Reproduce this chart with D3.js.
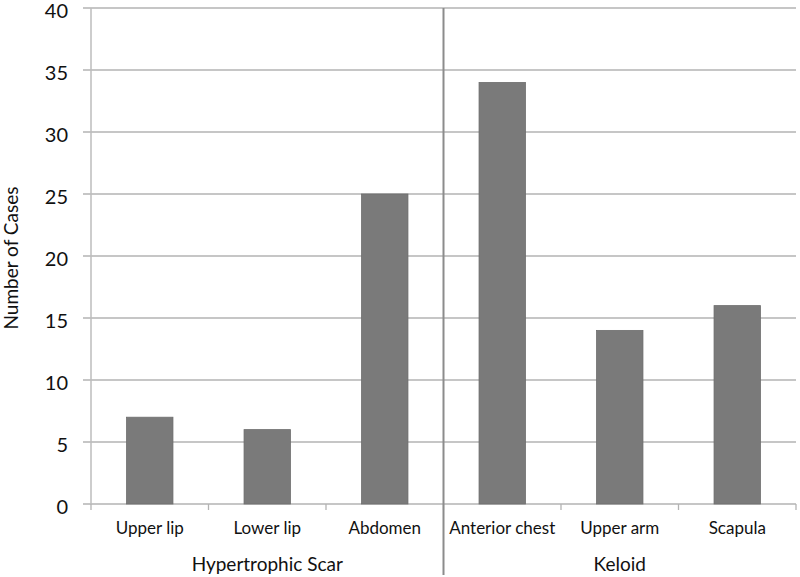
<!DOCTYPE html>
<html>
<head>
<meta charset="utf-8">
<script src="https://cdn.jsdelivr.net/npm/d3@7"></script>
<style>
  html, body { margin: 0; padding: 0; background: #fff; }
  svg { display: block; font-family: Lato, 'Open Sans', sans-serif; }
</style>
</head>
<body>
<svg id="chart" width="800" height="577"></svg>
<script>
// ── Data ──────────────────────────────────────────────────────────────────────
const categories = ['Upper lip', 'Lower lip', 'Abdomen', 'Anterior chest', 'Upper arm', 'Scapula'];
const cases      = [7, 6, 25, 34, 14, 16];
const groups     = ['Hypertrophic Scar', 'Keloid'];
const groupOf    = [0, 0, 0, 1, 1, 1];
const yTicks     = [0, 5, 10, 15, 20, 25, 30, 35, 40];

// ── Layout ────────────────────────────────────────────────────────────────────
const plot = { left: 91, right: 796, top: 8, bottom: 504 };

const svg = d3.select('#chart');

const x = d3.scaleBand()
  .domain(categories)
  .range([plot.left, plot.right])
  .paddingInner(0.605)
  .paddingOuter(0.3025);

const y = d3.scaleLinear()
  .domain([0, 40])
  .range([plot.bottom, plot.top]);

// Grid
svg.append('g')
  .selectAll('line')
  .data(yTicks)
  .join('line')
  .attr('x1', plot.left - 8).attr('x2', plot.right)
  .attr('y1', d => y(d)).attr('y2', d => y(d))
  .attr('stroke', '#b3b3b3')
  .attr('stroke-width', 1.3);

// Y axis line
svg.append('line')
  .attr('x1', plot.left).attr('x2', plot.left)
  .attr('y1', plot.top).attr('y2', plot.bottom)
  .attr('stroke', '#bdbdbd')
  .attr('stroke-width', 1.5);

// Y tick labels
svg.append('g')
  .selectAll('text')
  .data(yTicks)
  .join('text')
  .attr('x', 68)
  .attr('y', d => y(d) + 3)
  .attr('dy', '0.35em')
  .attr('text-anchor', 'end')
  .attr('font-size', 20)
  .attr('fill', '#111')
  .text(d => d);

// Category boundary ticks
const step = x.step();
const bounds = d3.range(categories.length + 1).map(i => plot.left + i * step);
svg.append('g')
  .selectAll('line')
  .data(bounds)
  .join('line')
  .attr('x1', d => d).attr('x2', d => d)
  .attr('y1', plot.bottom).attr('y2', plot.bottom + 6)
  .attr('stroke', '#b3b3b3')
  .attr('stroke-width', 1.3);

// Bars
svg.append('g')
  .selectAll('rect')
  .data(categories)
  .join('rect')
  .attr('x', d => x(d))
  .attr('y', (d, i) => y(cases[i]))
  .attr('width', x.bandwidth())
  .attr('height', (d, i) => y(0) - y(cases[i]))
  .attr('fill', '#7a7a7a')
  .attr('stroke', '#6e6e6e')
  .attr('stroke-width', 0.8);

// Group divider
svg.append('line')
  .attr('x1', plot.left + 3 * step).attr('x2', plot.left + 3 * step)
  .attr('y1', plot.top).attr('y2', 575)
  .attr('stroke', '#8c8c8c')
  .attr('stroke-width', 2);

// Category labels
svg.append('g')
  .selectAll('text')
  .data(categories)
  .join('text')
  .attr('x', d => x(d) + x.bandwidth() / 2)
  .attr('y', 534)
  .attr('text-anchor', 'middle')
  .attr('font-size', 17)
  .attr('fill', '#111')
  .text(d => d);

// Group labels
svg.append('g')
  .selectAll('text')
  .data(groups)
  .join('text')
  .attr('x', (g, gi) => {
    const idx = groupOf.map((v, i) => v === gi ? i : -1).filter(i => i >= 0);
    return plot.left + (idx[0] + idx[idx.length - 1] + 1) / 2 * step;
  })
  .attr('y', 571)
  .attr('text-anchor', 'middle')
  .attr('font-size', 19)
  .attr('fill', '#111')
  .text(d => d);

// Y axis title
svg.append('text')
  .attr('transform', `translate(18, 258) rotate(-90)`)
  .attr('text-anchor', 'middle')
  .attr('font-size', 19)
  .attr('fill', '#111')
  .text('Number of Cases');
</script>
</body>
</html>
